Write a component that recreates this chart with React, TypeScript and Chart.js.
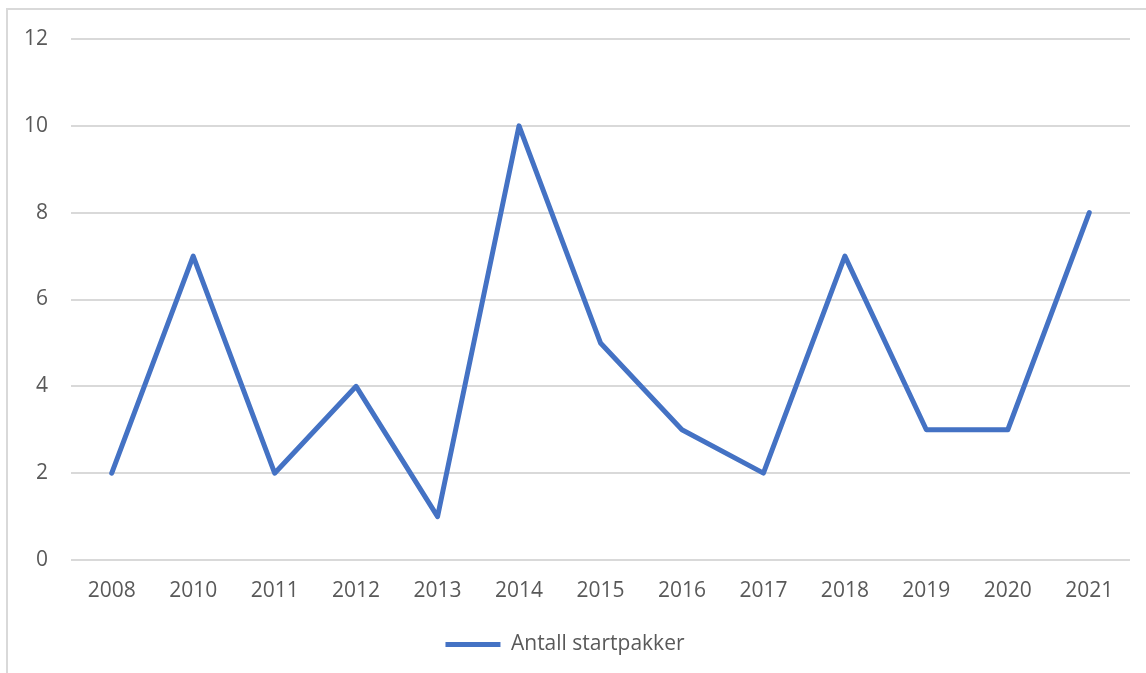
import React, { useEffect, useRef } from "react";
import { Chart, registerables } from "chart.js";

Chart.register(...registerables);

const categories = ["2008", "2010", "2011", "2012", "2013", "2014", "2015", "2016", "2017", "2018", "2019", "2020", "2021"];
const startpakker = [2, 7, 2, 4, 1, 10, 5, 3, 2, 7, 3, 3, 8];
const seriesName = "Antall startpakker";

export default function App() {
  const ref = useRef<HTMLCanvasElement | null>(null);
  useEffect(() => {
    if (!ref.current) return;
    const font = { family: "'Open Sans', sans-serif", size: 21 };
    const chart = new Chart(ref.current, {
      type: "line",
      data: {
        labels: categories,
        datasets: [
          {
            label: seriesName,
            data: startpakker,
            borderColor: "#4472C4",
            backgroundColor: "#4472C4",
            borderWidth: 5,
            pointRadius: 0,
            tension: 0,
            borderJoinStyle: "round",
            borderCapStyle: "round",
          },
        ],
      },
      options: {
        animation: false,
        responsive: false,
        maintainAspectRatio: false,
        layout: { padding: { left: 0, right: 16, top: 39, bottom: 8 } },
        plugins: {
          tooltip: { enabled: false },
          legend: {
            position: "bottom",
            labels: {
              color: "#595959",
              font,
              boxWidth: 55,
              boxHeight: 5,
              padding: 14,
              generateLabels: (c: any) => [
                {
                  text: seriesName,
                  fillStyle: "#4472C4",
                  strokeStyle: "#4472C4",
                  lineWidth: 0,
                  datasetIndex: 0,
                  fontColor: "#595959",
                },
              ],
            },
          },
        },
        scales: {
          x: {
            offset: true,
            grid: { display: false, drawTicks: false },
            border: { display: false },
            ticks: { color: "#595959", font, padding: 18, maxRotation: 0, autoSkip: false },
            afterFit: (s: any) => {
              s.height = 60;
            },
          },
          y: {
            min: 0,
            max: 12,
            ticks: { stepSize: 2, color: "#595959", font, padding: 23 },
            grid: { color: "#d9d9d9", lineWidth: 2, drawTicks: false },
            border: { display: false },
            afterFit: (s: any) => {
              s.width = 71;
            },
          },
        },
      },
    });
    return () => chart.destroy();
  }, []);
  return (
    <div style={{ position: "fixed", left: 0, top: 0, width: 1146, height: 673, background: "#fff", overflow: "hidden" }}>
      <div
        style={{
          position: "absolute",
          left: 6,
          top: 8,
          width: 1200,
          height: 700,
          border: "2px solid #d9d9d9",
          boxSizing: "border-box",
        }}
      />
      <canvas ref={ref} width={1146} height={673} style={{ position: "absolute", left: 0, top: 0 }} />
    </div>
  );
}
